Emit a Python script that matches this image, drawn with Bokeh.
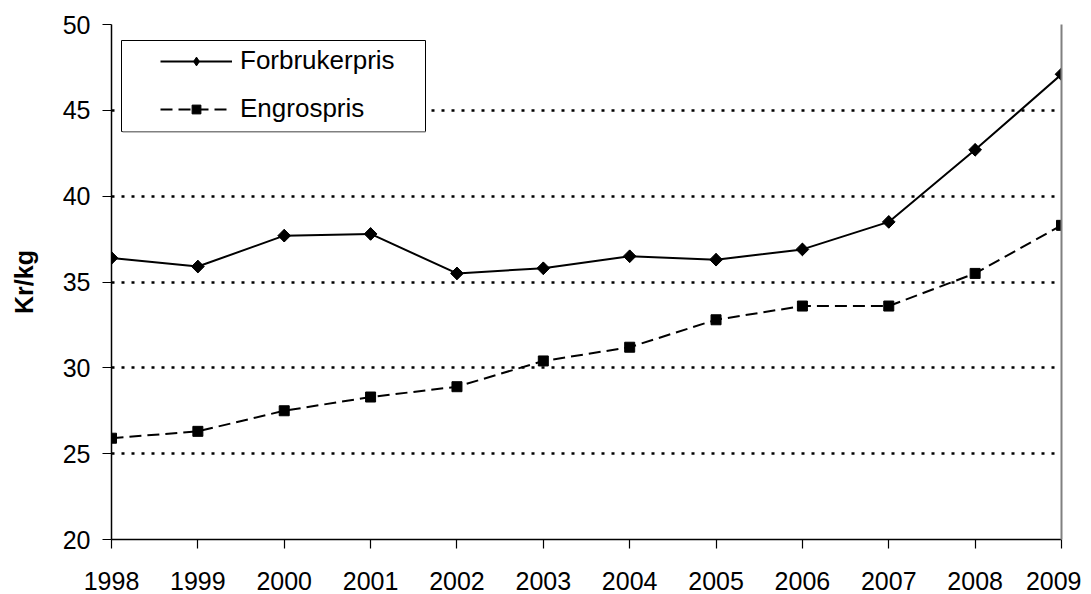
import numpy as np
from bokeh.plotting import figure
from bokeh.models import (Range1d, FixedTicker, LinearAxis, Legend, LegendItem,
                          BoxAnnotation, ColumnDataSource)
from bokeh.embed import file_html
from bokeh.resources import INLINE

# ---- data ----
years = [1998, 1999, 2000, 2001, 2002, 2003, 2004, 2005, 2006, 2007, 2008, 2009]
forbrukerpris = [36.4, 35.9, 37.7, 37.8, 35.5, 35.8, 36.5, 36.3, 36.9, 38.5, 42.7, 47.1]
engrospris = [25.9, 26.3, 27.5, 28.3, 28.9, 30.4, 31.2, 32.8, 33.6, 33.6, 35.5, 38.3]
y_ticks = [20, 25, 30, 35, 40, 45, 50]
series_names = ["Forbrukerpris", "Engrospris"]
y_title = "Kr/kg"

FONT = "Liberation Sans"

src = ColumnDataSource(dict(x=years, f=forbrukerpris, e=engrospris))

p = figure(width=1081, height=599, output_backend="svg", toolbar_location=None,
           x_range=Range1d(years[0], years[-1]), y_range=Range1d(y_ticks[0], y_ticks[-1]),
           frame_width=950, frame_height=515,
           min_border_left=111, min_border_top=24, min_border_right=20, min_border_bottom=60)
p.outline_line_color = None
p.background_fill_color = "white"

# axes
for ax in (p.xaxis[0], p.yaxis[0]):
    ax.axis_line_color = "black"
    ax.axis_line_width = 1.5
    ax.major_tick_line_color = "black"
    ax.major_tick_line_width = 1.2
    ax.major_tick_out = 9
    ax.major_tick_in = 0
    ax.minor_tick_line_color = None
    ax.major_label_text_font = FONT
    ax.major_label_text_font_size = "25px"
    ax.major_label_text_color = "black"

p.xaxis[0].ticker = FixedTicker(ticks=years)
p.xaxis[0].major_label_standoff = 23
p.yaxis[0].ticker = FixedTicker(ticks=y_ticks)
p.yaxis[0].major_label_standoff = 12
p.yaxis[0].axis_label = y_title
p.yaxis[0].axis_label_text_font = FONT
p.yaxis[0].axis_label_text_font_size = "25px"
p.yaxis[0].axis_label_text_font_style = "bold"
p.yaxis[0].axis_label_text_color = "black"
p.yaxis[0].axis_label_standoff = 22

# right border as axis with no ticks
rax = LinearAxis(ticker=FixedTicker(ticks=[]), axis_line_color="#808080", axis_line_width=2,
                 major_tick_line_color=None, minor_tick_line_color=None,
                 major_label_text_font_size="0px")
p.add_layout(rax, "right")

# grid
p.xgrid.grid_line_color = None
p.ygrid.ticker = FixedTicker(ticks=y_ticks)
p.ygrid.grid_line_color = "black"
p.ygrid.grid_line_width = 2.5
p.ygrid.grid_line_dash = "3 7"

# series
l1 = p.line("x", "f", source=src, line_color="black", line_width=2)
# diamond hidden under the rotated squares, used for the legend symbol
d1 = p.scatter("x", "f", source=src, marker="diamond", size=12,
               fill_color="black", line_color="black")
p.scatter("x", "f", source=src, marker="square", angle=np.pi / 4, size=9,
          fill_color="black", line_color="black")
l2 = p.line("x", "e", source=src, line_color="black", line_width=2, line_dash="12 6")
s2 = p.scatter("x", "e", source=src, marker="square", size=10,
               fill_color="black", line_color="black")

# legend frame (white, covers gridlines)
box = BoxAnnotation(left=10, right=314, bottom=408, top=499,
                    left_units="screen", right_units="screen",
                    bottom_units="screen", top_units="screen",
                    fill_color="white", fill_alpha=1, line_color="black", line_width=1, line_alpha=1)
p.add_layout(box)
shadow = BoxAnnotation(left=11, right=314, bottom=407, top=408.5,
                       left_units="screen", right_units="screen",
                       bottom_units="screen", top_units="screen",
                       fill_color="#808080", fill_alpha=1, line_alpha=0)
p.add_layout(shadow)

legend = Legend(items=[LegendItem(label=series_names[0], renderers=[l1, d1]),
                       LegendItem(label=series_names[1], renderers=[l2, s2])],
                location=(42, 408), padding=7, spacing=17, margin=0,
                glyph_width=72, glyph_height=22, label_height=30, label_standoff=8,
                label_text_font=FONT, label_text_font_size="26px",
                label_text_color="black",
                border_line_alpha=0, background_fill_alpha=0)
p.add_layout(legend)

open("out.html", "w").write(file_html(p, INLINE))
